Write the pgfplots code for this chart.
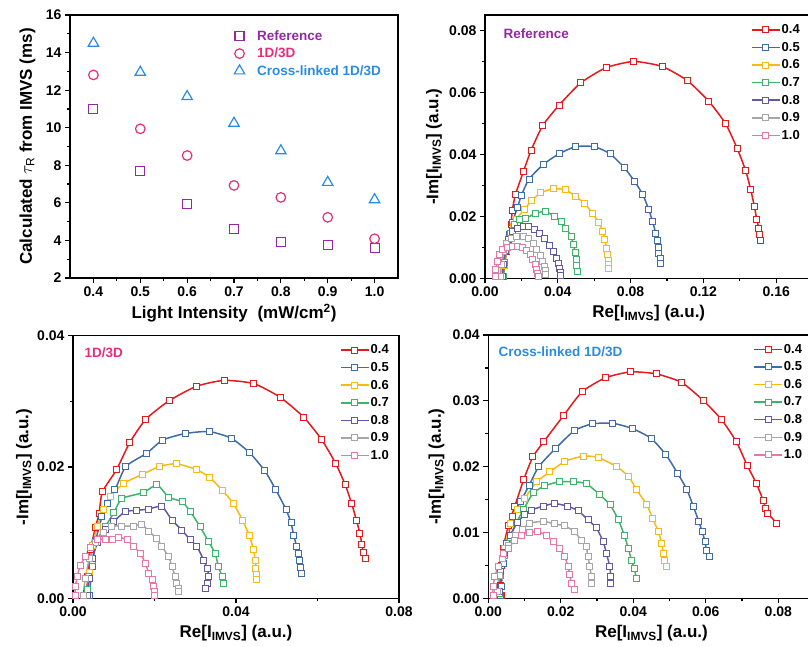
\documentclass[border=0pt]{standalone}
\usepackage{fontspec}
\setmainfont{Liberation Sans}
\usepackage{pgfplots}
\pgfplotsset{compat=1.18}
\definecolor{cR}{RGB}{228,26,28}
\definecolor{cB}{RGB}{62,108,166}
\definecolor{cY}{RGB}{247,185,20}
\definecolor{cG}{RGB}{62,180,105}
\definecolor{cP}{RGB}{96,90,160}
\definecolor{cK}{RGB}{165,165,165}
\definecolor{cPk}{RGB}{228,120,165}
\definecolor{refc}{RGB}{150,40,165}
\definecolor{onec}{RGB}{232,45,120}
\definecolor{crossc}{RGB}{40,140,230}
\pgfplotsset{
 base/.style={scale only axis, axis line style={line width=1.5pt}, tick align=outside, tick pos=left,
  major tick length=5pt, minor tick length=3pt,
  every tick/.append style={line width=1.2pt, black},
  tick label style={font=\fontsize{14}{14}\selectfont\bfseries},
  /pgf/number format/assume math mode=true, scaled ticks=false,
  every axis x label/.style={at={(rel axis cs:0.5,0)}, anchor=center, yshift=-35pt, font=\fontsize{17}{17}\selectfont\bfseries},
  every axis y label/.style={at={(rel axis cs:0,0.5)}, rotate=90, anchor=center, font=\fontsize{17}{17}\selectfont\bfseries},
  minor tick num=1},
 nyq/.style={base, xmin=0, ymin=0,
  xticklabel style={/pgf/number format/.cd, fixed, fixed zerofill, precision=2},
  yticklabel style={/pgf/number format/.cd, fixed, fixed zerofill, precision=2},
  xlabel={Re[I\textsubscript{IMVS}] (a.u.)}, ylabel={-Im[I\textsubscript{IMVS}] (a.u.)},
  legend image code/.code={\draw[mark repeat=2, mark phase=2, #1] plot coordinates {(0pt,0pt) (14pt,0pt) (28pt,0pt)};},
  legend style={anchor=north west, draw=none, fill=none, inner sep=0pt, row sep=5pt, nodes={inner sep=1pt},
   font=\fontsize{13}{13}\selectfont\bfseries}, legend cell align=left},
 nq/.style={color=#1, line width=1.5pt, smooth, tension=0.35, mark=square*, mark size=3pt, mark options={fill=white, line width=1pt, solid}}
}
\begin{document}
\begin{tikzpicture}[x=1pt,y=1pt]
\useasboundingbox (0,0) rectangle (808,-646);
% ---------------- top left ----------------
\begin{axis}[base, at={(70pt,-278pt)}, anchor=south west, width=328pt, height=263pt,
  xmin=0.35, xmax=1.05, ymin=2, ymax=16, xtick={0.4,0.5,...,1.0}, ytick={2,4,...,16},
  xticklabel style={/pgf/number format/.cd, fixed, fixed zerofill, precision=1},
  xlabel={Light Intensity\hspace{0.3em} (mW/cm\textsuperscript{2})},
  ylabel={Calculated $\tau_\mathrm{R}$ from IMVS (ms)},
  ylabel style={at={(axis description cs:-0.13,0.5)}},
  legend image code/.code={\path (0pt,0pt) (24pt,0pt); \draw[#1] plot coordinates {(8pt,0pt)};},
  legend style={at={(0.49,0.945)}, anchor=north west, draw=none, fill=none, inner sep=0pt, row sep=4pt, nodes={inner sep=1pt},
   font=\fontsize{13.5}{13.5}\selectfont\bfseries}, legend cell align=left]
\addplot[only marks, mark=square, mark size=4.5pt, color=refc, line width=1.1pt] coordinates {
(0.4,11.0)(0.5,7.71)(0.6,5.93)(0.7,4.61)(0.8,3.90)(0.9,3.74)(1.0,3.60)};
\addlegendentry{\textcolor{refc}{Reference}}
\addplot[only marks, mark=o, mark size=4.8pt, color=onec, line width=1.2pt] coordinates {
(0.4,12.81)(0.5,9.94)(0.6,8.52)(0.7,6.93)(0.8,6.29)(0.9,5.23)(1.0,4.09)};
\addlegendentry{\textcolor{onec}{1D/3D}}
\addplot[only marks, mark=triangle, mark size=6pt, color=crossc, line width=1.2pt] coordinates {
(0.4,14.5)(0.5,12.95)(0.6,11.66)(0.7,10.24)(0.8,8.77)(0.9,7.09)(1.0,6.17)};
\addlegendentry{\textcolor{crossc}{Cross-linked 1D/3D}}
\end{axis}
% ---------------- top right (Reference) ----------------
\begin{axis}[nyq, at={(485pt,-278.3pt)}, anchor=south west, width=327.6pt, height=263.3pt,
  xmax=0.18, ymax=0.085, xtick={0,0.04,...,0.16}, ytick={0,0.02,...,0.08},
  ylabel style={at={(axis description cs:-0.156,0.5)}},
  legend style={at={(0.812,0.968)}}]
\addplot[nq=cR] coordinates {(0.0100,0.0005)(0.0108,0.0045)(0.0118,0.0088)(0.0130,0.0126)(0.0143,0.0175)(0.0150,0.0219)(0.0167,0.0270)(0.0212,0.0346)(0.0253,0.0413)(0.0317,0.0493)(0.0407,0.0559)(0.0526,0.0631)(0.0665,0.0680)(0.0817,0.0700)(0.0973,0.0684)(0.1110,0.0639)(0.1229,0.0572)(0.1322,0.0499)(0.1385,0.0420)(0.1432,0.0348)(0.1460,0.0286)(0.1480,0.0232)(0.1493,0.0191)(0.1504,0.0162)(0.1507,0.0140)(0.1511,0.0122)};
\addlegendentry{0.4}
\addplot[nq=cB] coordinates {(0.0097,0.0006)(0.0106,0.0043)(0.0119,0.0092)(0.0135,0.0140)(0.0150,0.0180)(0.0178,0.0228)(0.0200,0.0268)(0.0242,0.0320)(0.0321,0.0368)(0.0407,0.0402)(0.0498,0.0425)(0.0601,0.0425)(0.0687,0.0402)(0.0764,0.0358)(0.0822,0.0313)(0.0868,0.0269)(0.0899,0.0223)(0.0921,0.0183)(0.0938,0.0146)(0.0947,0.0122)(0.0952,0.0098)(0.0956,0.0081)(0.0962,0.0065)(0.0962,0.0049)};
\addlegendentry{0.5}
\addplot[nq=cY] coordinates {(0.0095,0.0005)(0.0105,0.0040)(0.0120,0.0090)(0.0140,0.0140)(0.0155,0.0168)(0.0172,0.0190)(0.0216,0.0223)(0.0256,0.0250)(0.0306,0.0276)(0.0375,0.0289)(0.0443,0.0286)(0.0498,0.0264)(0.0549,0.0241)(0.0590,0.0210)(0.0626,0.0180)(0.0647,0.0151)(0.0659,0.0126)(0.0668,0.0097)(0.0674,0.0076)(0.0678,0.0059)(0.0678,0.0043)(0.0678,0.0032)};
\addlegendentry{0.6}
\addplot[nq=cG] coordinates {(0.0100,0.0005)(0.0108,0.0050)(0.0120,0.0100)(0.0140,0.0145)(0.0160,0.0175)(0.0189,0.0189)(0.0225,0.0194)(0.0280,0.0210)(0.0332,0.0216)(0.0381,0.0200)(0.0418,0.0184)(0.0445,0.0162)(0.0473,0.0135)(0.0485,0.0110)(0.0496,0.0082)(0.0500,0.0060)(0.0504,0.0040)(0.0506,0.0022)};
\addlegendentry{0.7}
\addplot[nq=cP] coordinates {(0.0095,0.0005)(0.0100,0.0045)(0.0112,0.0090)(0.0130,0.0125)(0.0150,0.0150)(0.0180,0.0162)(0.0210,0.0168)(0.0240,0.0167)(0.0270,0.0158)(0.0300,0.0145)(0.0328,0.0128)(0.0355,0.0107)(0.0378,0.0085)(0.0395,0.0065)(0.0405,0.0047)(0.0410,0.0032)(0.0413,0.0018)(0.0414,0.0008)};
\addlegendentry{0.8}
\addplot[nq=cK] coordinates {(0.0085,0.0005)(0.0090,0.0045)(0.0102,0.0085)(0.0120,0.0112)(0.0145,0.0128)(0.0175,0.0135)(0.0210,0.0134)(0.0240,0.0127)(0.0265,0.0112)(0.0285,0.0093)(0.0303,0.0073)(0.0315,0.0055)(0.0325,0.0038)(0.0332,0.0024)(0.0335,0.0012)};
\addlegendentry{0.9}
\addplot[nq=cPk] coordinates {(0.0055,0.0005)(0.0060,0.0030)(0.0068,0.0055)(0.0080,0.0077)(0.0098,0.0093)(0.0122,0.0101)(0.0150,0.0104)(0.0180,0.0104)(0.0205,0.0100)(0.0228,0.0090)(0.0248,0.0076)(0.0263,0.0060)(0.0275,0.0044)(0.0283,0.0030)(0.0290,0.0017)(0.0294,0.0007)};
\addlegendentry{1.0}
\end{axis}
% ---------------- bottom left (1D/3D) ----------------
\begin{axis}[nyq, at={(73pt,-598.3pt)}, anchor=south west, width=326pt, height=262.6pt,
  xmax=0.08, ymax=0.04, xtick={0,0.04,0.08}, ytick={0,0.02,0.04},
  ylabel style={at={(axis description cs:-0.15,0.5)}},
  legend style={at={(0.819,0.97)}}]
\addplot[nq=cR] coordinates {(0.0034,0.0008)(0.0036,0.0033)(0.0043,0.0074)(0.0055,0.0108)(0.0064,0.0129)(0.0072,0.0162)(0.0107,0.0196)(0.0139,0.0237)(0.0179,0.0273)(0.0236,0.0301)(0.0303,0.0323)(0.0371,0.0332)(0.0444,0.0327)(0.0509,0.0306)(0.0566,0.0276)(0.0610,0.0242)(0.0645,0.0205)(0.0668,0.0173)(0.0684,0.0144)(0.0696,0.0118)(0.0704,0.0099)(0.0709,0.0082)(0.0712,0.0070)(0.0717,0.0061)};
\addlegendentry{0.4}
\addplot[nq=cB] coordinates {(0.0040,0.0005)(0.0047,0.0048)(0.0055,0.0086)(0.0071,0.0124)(0.0085,0.0145)(0.0103,0.0165)(0.0130,0.0201)(0.0181,0.0221)(0.0220,0.0241)(0.0275,0.0251)(0.0334,0.0254)(0.0388,0.0244)(0.0433,0.0222)(0.0471,0.0194)(0.0498,0.0165)(0.0523,0.0135)(0.0535,0.0115)(0.0542,0.0095)(0.0549,0.0079)(0.0553,0.0069)(0.0557,0.0057)(0.0559,0.0047)(0.0560,0.0038)};
\addlegendentry{0.5}
\addplot[nq=cY] coordinates {(0.0035,0.0005)(0.0040,0.0040)(0.0048,0.0080)(0.0060,0.0110)(0.0075,0.0135)(0.0091,0.0155)(0.0124,0.0175)(0.0171,0.0189)(0.0213,0.0201)(0.0254,0.0205)(0.0303,0.0196)(0.0336,0.0184)(0.0367,0.0164)(0.0393,0.0145)(0.0416,0.0119)(0.0433,0.0095)(0.0443,0.0074)(0.0447,0.0058)(0.0449,0.0046)(0.0451,0.0036)(0.0451,0.0028)};
\addlegendentry{0.6}
\addplot[nq=cG] coordinates {(0.0035,0.0013)(0.0039,0.0033)(0.0047,0.0058)(0.0059,0.0089)(0.0079,0.0109)(0.0100,0.0130)(0.0120,0.0152)(0.0173,0.0161)(0.0206,0.0173)(0.0235,0.0154)(0.0268,0.0147)(0.0288,0.0132)(0.0312,0.0109)(0.0333,0.0086)(0.0349,0.0068)(0.0357,0.0048)(0.0366,0.0033)(0.0370,0.0023)};
\addlegendentry{0.7}
\addplot[nq=cP] coordinates {(0.0035,0.0005)(0.0040,0.0030)(0.0048,0.0060)(0.0060,0.0085)(0.0080,0.0105)(0.0100,0.0117)(0.0128,0.0132)(0.0157,0.0134)(0.0186,0.0136)(0.0218,0.0140)(0.0243,0.0119)(0.0267,0.0104)(0.0288,0.0089)(0.0304,0.0079)(0.0321,0.0058)(0.0329,0.0046)(0.0333,0.0033)(0.0329,0.0023)(0.0325,0.0015)};
\addlegendentry{0.8}
\addplot[nq=cK] coordinates {(0.0025,0.0005)(0.0030,0.0030)(0.0040,0.0060)(0.0055,0.0085)(0.0075,0.0100)(0.0094,0.0110)(0.0120,0.0110)(0.0149,0.0110)(0.0169,0.0113)(0.0186,0.0102)(0.0206,0.0091)(0.0218,0.0079)(0.0235,0.0063)(0.0243,0.0048)(0.0251,0.0033)(0.0255,0.0023)(0.0258,0.0015)(0.0258,0.0010)};
\addlegendentry{0.9}
\addplot[nq=cPk] coordinates {(0.0005,0.0005)(0.0006,0.0018)(0.0010,0.0033)(0.0018,0.0050)(0.0030,0.0063)(0.0042,0.0078)(0.0059,0.0089)(0.0079,0.0090)(0.0096,0.0090)(0.0112,0.0093)(0.0133,0.0089)(0.0149,0.0079)(0.0165,0.0069)(0.0178,0.0053)(0.0186,0.0038)(0.0194,0.0028)(0.0198,0.0018)(0.0200,0.0010)(0.0200,0.0005)};
\addlegendentry{1.0}
\end{axis}
% ---------------- bottom right (Cross-linked) ----------------
\begin{axis}[nyq, at={(488.3pt,-598.3pt)}, anchor=south west, width=326.3pt, height=263.3pt,
  xmax=0.09, ymax=0.04, xtick={0,0.02,...,0.08}, ytick={0,0.01,...,0.04},
  ylabel style={at={(axis description cs:-0.159,0.5)}},
  legend style={at={(0.812,0.97)}}]
\addplot[nq=cR] coordinates {(0.0036,0.0005)(0.0035,0.0020)(0.0037,0.0050)(0.0041,0.0076)(0.0055,0.0110)(0.0073,0.0140)(0.0098,0.0181)(0.0123,0.0215)(0.0153,0.0238)(0.0208,0.0278)(0.0259,0.0314)(0.0323,0.0335)(0.0392,0.0344)(0.0463,0.0341)(0.0533,0.0328)(0.0594,0.0300)(0.0644,0.0271)(0.0684,0.0238)(0.0714,0.0202)(0.0739,0.0175)(0.0758,0.0149)(0.0765,0.0137)(0.0771,0.0129)(0.0796,0.0114)};
\addlegendentry{0.4}
\addplot[nq=cB] coordinates {(0.0035,0.0005)(0.0036,0.0018)(0.0041,0.0053)(0.0050,0.0084)(0.0068,0.0124)(0.0089,0.0147)(0.0113,0.0172)(0.0139,0.0200)(0.0186,0.0228)(0.0238,0.0255)(0.0287,0.0265)(0.0342,0.0266)(0.0397,0.0258)(0.0449,0.0243)(0.0490,0.0218)(0.0522,0.0190)(0.0547,0.0166)(0.0566,0.0139)(0.0581,0.0116)(0.0590,0.0101)(0.0598,0.0086)(0.0602,0.0073)(0.0609,0.0064)};
\addlegendentry{0.5}
\addplot[nq=cY] coordinates {(0.0030,0.0010)(0.0035,0.0040)(0.0045,0.0075)(0.0060,0.0113)(0.0080,0.0135)(0.0101,0.0152)(0.0133,0.0177)(0.0170,0.0192)(0.0211,0.0208)(0.0262,0.0216)(0.0303,0.0214)(0.0354,0.0200)(0.0387,0.0185)(0.0409,0.0165)(0.0437,0.0142)(0.0453,0.0122)(0.0469,0.0101)(0.0478,0.0084)(0.0483,0.0068)(0.0487,0.0058)(0.0492,0.0048)};
\addlegendentry{0.6}
\addplot[nq=cG] coordinates {(0.0030,0.0008)(0.0035,0.0035)(0.0045,0.0065)(0.0060,0.0093)(0.0078,0.0115)(0.0097,0.0135)(0.0124,0.0160)(0.0156,0.0171)(0.0195,0.0177)(0.0236,0.0177)(0.0271,0.0174)(0.0308,0.0157)(0.0336,0.0142)(0.0359,0.0119)(0.0375,0.0096)(0.0386,0.0076)(0.0395,0.0058)(0.0402,0.0046)(0.0409,0.0030)};
\addlegendentry{0.7}
\addplot[nq=cP] coordinates {(0.0030,0.0010)(0.0035,0.0040)(0.0045,0.0070)(0.0060,0.0095)(0.0080,0.0115)(0.0100,0.0127)(0.0119,0.0134)(0.0151,0.0140)(0.0183,0.0144)(0.0218,0.0140)(0.0248,0.0133)(0.0275,0.0119)(0.0298,0.0107)(0.0317,0.0086)(0.0326,0.0068)(0.0335,0.0048)(0.0338,0.0033)(0.0338,0.0023)};
\addlegendentry{0.8}
\addplot[nq=cK] coordinates {(0.0025,0.0010)(0.0030,0.0035)(0.0040,0.0060)(0.0055,0.0080)(0.0075,0.0095)(0.0095,0.0105)(0.0114,0.0114)(0.0151,0.0117)(0.0183,0.0113)(0.0211,0.0110)(0.0238,0.0101)(0.0257,0.0088)(0.0270,0.0079)(0.0275,0.0063)(0.0280,0.0048)(0.0284,0.0033)(0.0284,0.0023)};
\addlegendentry{0.9}
\addplot[nq=cPk] coordinates {(0.0013,0.0005)(0.0013,0.0018)(0.0018,0.0033)(0.0027,0.0048)(0.0041,0.0068)(0.0055,0.0076)(0.0073,0.0088)(0.0091,0.0096)(0.0114,0.0100)(0.0137,0.0101)(0.0160,0.0096)(0.0179,0.0086)(0.0197,0.0076)(0.0211,0.0063)(0.0220,0.0048)(0.0225,0.0036)(0.0229,0.0023)(0.0237,0.0013)};
\addlegendentry{1.0}
\end{axis}
\node[anchor=west, text=refc, font=\fontsize{13.5}{13.5}\selectfont\bfseries] at (500,-34) {Reference};
\node[anchor=west, text=onec, font=\fontsize{13.5}{13.5}\selectfont\bfseries] at (81,-353) {1D/3D};
\node[anchor=west, text=crossc, font=\fontsize{13.5}{13.5}\selectfont\bfseries] at (495,-352) {Cross-linked 1D/3D};
\end{tikzpicture}
\end{document}
